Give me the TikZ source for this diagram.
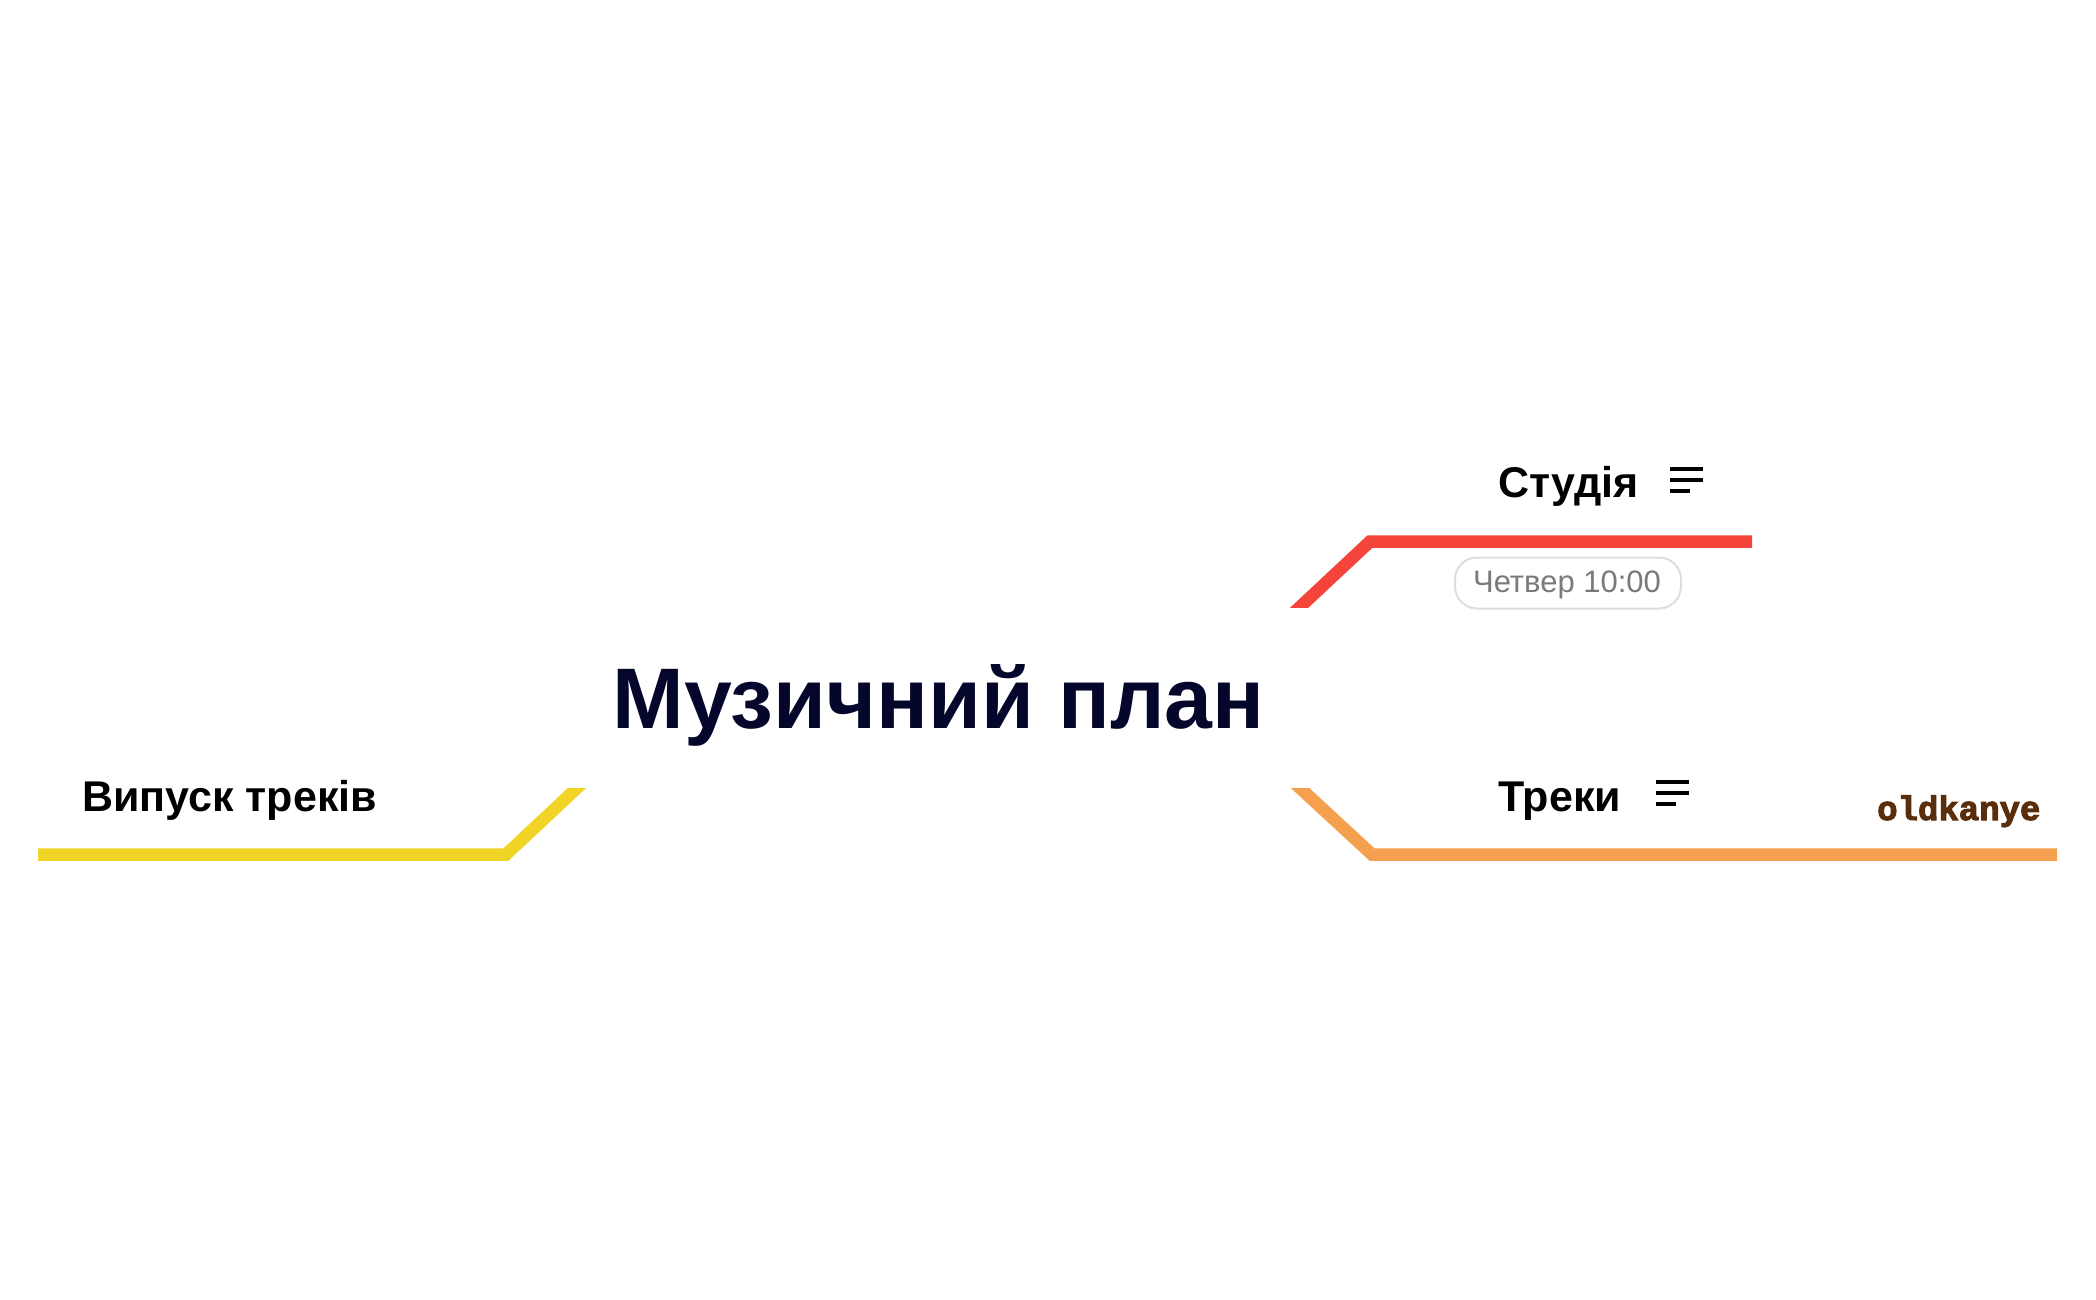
\documentclass[tikz,border=0pt]{standalone}
\usepackage{fontspec}
\setmainfont{Liberation Sans}
\newfontfamily\slabmono[BoldFeatures={FakeBold=3}]{Liberation Mono}
\usetikzlibrary{calc}
\definecolor{titlecol}{HTML}{05062B}
\definecolor{redline}{HTML}{F5443A}
\definecolor{orangeline}{HTML}{F5A04F}
\definecolor{yellowline}{HTML}{F0D426}
\definecolor{pillborder}{HTML}{DDDDDD}
\definecolor{pilltext}{HTML}{7A7A7A}
\definecolor{browntext}{HTML}{5A2E0A}
\tikzset{
  branch/.style={line width=12.5pt, line join=miter, line cap=butt},
  topiclabel/.style={anchor=base west, inner sep=0pt, font=\bfseries\fontsize{43}{43}\selectfont, text=black},
  menuicon/.pic={\draw[line width=4pt, black] (0,0) -- (33,0) (0,11) -- (33,11) (0,22) -- (20,22);},
  pillbox/.style={draw=pillborder, line width=2pt, rounded corners=22pt, minimum width=226pt, minimum height=51pt, inner sep=0pt},
}
\begin{document}
\begin{tikzpicture}[x=1pt,y=-1pt]
\useasboundingbox (0,0) rectangle (2096,1300);
\fill[white] (0,0) rectangle (2096,1300);

% central topic
\node[anchor=base, inner sep=0pt, text=titlecol, font=\bfseries\fontsize{86}{86}\selectfont] (title) at (938.5,728) {Музичний план};

% branch coordinates
\coordinate (ytop) at (577,788);
\coordinate (yvert) at (506,854.5);
\coordinate (yend) at (38,854.5);
\coordinate (otop) at (1300,788);
\coordinate (overt) at (1372,854.5);
\coordinate (oend) at (2057,854.5);
\coordinate (rtop) at (1300,607);
\coordinate (rvert) at (1370,541.5);
\coordinate (rend) at (1752,541.5);

% branches
\begin{scope}
\clip (0,788) rectangle (2096,1300);
\draw[branch, yellowline] ($(ytop)!-0.2!(yvert)$) -- (yvert) -- (yend);
\draw[branch, orangeline] ($(otop)!-0.2!(overt)$) -- (overt) -- (oend);
\end{scope}
\begin{scope}
\clip (0,0) rectangle (2096,607);
\draw[branch, redline] ($(rtop)!-0.2!(rvert)$) -- (rvert) -- (rend);
\end{scope}

% labels
\node[topiclabel] (studio) at (1498,497) {Студія};
\pic at (1670,469) {menuicon};
\node[topiclabel] (tracks) at (1498,811) {Треки};
\pic at (1656,782) {menuicon};
\node[topiclabel] (release) at (82,811) {Випуск треків};

% pill
\node[pillbox] (pill) at (1568,583) {};
\node[anchor=base, inner sep=0pt, text=pilltext, font=\fontsize{31}{31}\selectfont] (pilltxt) at (1567,592) {Четвер 10:00};

% oldkanye
\node[anchor=base west, inner sep=0pt, text=browntext, font=\slabmono\bfseries\fontsize{34}{34}\selectfont] (oldk) at (1877,820) {oldkanye};
\end{tikzpicture}
\end{document}
